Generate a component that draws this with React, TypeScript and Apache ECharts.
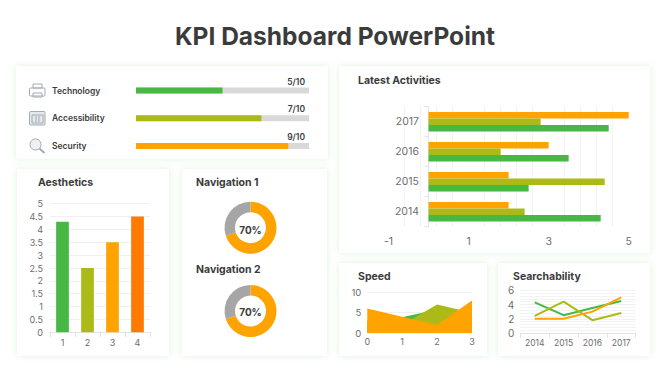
import React, { useEffect, useRef } from "react";
import * as echarts from "echarts";

const FONT = "Inter, 'Open Sans', sans-serif";
const GREEN = "#47b843";
const OLIVE = "#abba16";
const ORANGE = "#ffa300";
const DEEP = "#ff7a00";
const GRAY = "#a6a6a6";
const INK = "#3b3b3b";
const TICK = "#6e6e6e";

const kpiNames = ["Technology", "Accessibility", "Security"];
const kpiLabels = ["5/10", "7/10", "9/10"];
const kpiValues = [5, 7.25, 8.8];
const kpiMax = 10;

const years = ["2014", "2015", "2016", "2017"];
const seriesGreen = [4.3, 2.5, 3.5, 4.5];
const seriesOlive = [2.4, 4.4, 1.8, 2.8];
const seriesOrange = [2, 2, 3, 5];

const aestheticsCats = ["1", "2", "3", "4"];
const aestheticsValues = [4.3, 2.5, 3.5, 4.5];

const donutValues = [70, 30];

const speedCats = ["0", "1", "2", "3"];
const speedGreen = [3, 3.9, 5.8, 3];
const speedOlive = [0, 2, 7, 5];
const speedOrange = [6, 4, 2, 8];

const panels = [
  [16, 66, 312, 93],
  [339, 66, 311, 187],
  [17, 169, 152, 187],
  [182, 169, 145, 187],
  [339, 263, 148, 93],
  [498, 263, 152, 93],
];

const headings: [string, number, number][] = [
  ["Latest Activities", 358, 80],
  ["Aesthetics", 38, 182],
  ["Navigation 1", 196, 182],
  ["Navigation 2", 196, 269],
  ["Speed", 358, 276],
  ["Searchability", 513, 276],
];

const iconStroke = { stroke: "#a3abb4", fill: "none", lineWidth: 1 };

function icons() {
  return [
    { type: "rect", shape: { x: 29.5, y: 88, width: 15.5, height: 8, r: 1 }, style: iconStroke },
    { type: "rect", shape: { x: 33, y: 84, width: 9, height: 4 }, style: iconStroke },
    { type: "rect", shape: { x: 33, y: 93, width: 9, height: 4 }, style: iconStroke },
    { type: "rect", shape: { x: 29.5, y: 111.5, width: 15.5, height: 13.5, r: 1 }, style: { ...iconStroke, fill: "#e6e9ec" } },
    { type: "rect", shape: { x: 32, y: 115, width: 11, height: 8 }, style: iconStroke },
    { type: "line", shape: { x1: 36, y1: 116, x2: 36, y2: 122 }, style: iconStroke },
    { type: "line", shape: { x1: 39, y1: 116, x2: 39, y2: 122 }, style: iconStroke },
    { type: "circle", shape: { cx: 35.5, cy: 144.5, r: 5.5 }, style: { ...iconStroke, fill: "#eef0f2" } },
    { type: "line", shape: { x1: 39.5, y1: 148.5, x2: 44.5, y2: 153 }, style: { stroke: "#a3abb4", lineWidth: 2 } },
  ];
}

export default function App() {
  const ref = useRef<HTMLDivElement>(null);
  useEffect(() => {
    document.body.style.margin = "0";
    const chart = echarts.init(ref.current!, undefined, { renderer: "svg" });
    const splitFaint = { show: true, lineStyle: { color: "#f0f0f0", width: 1 } };
    const tickLabel = (size: number) => ({ color: TICK, fontFamily: FONT, fontSize: size });
    const hiddenVal = { show: false };

    const donut = (cy: number) => ({
      type: "pie",
      center: [250.5, cy],
      radius: [15.5, 26],
      startAngle: 90,
      silent: true,
      label: { show: false },
      labelLine: { show: false },
      data: [
        { value: donutValues[0], itemStyle: { color: ORANGE } },
        { value: donutValues[1], itemStyle: { color: GRAY } },
      ],
    });

    const area = (name: string, data: number[], color: string) => ({
      type: "line",
      name,
      xAxisIndex: 3,
      yAxisIndex: 3,
      data,
      symbol: "none",
      lineStyle: { width: 0 },
      areaStyle: { color, opacity: 1 },
    });
    const line = (name: string, data: number[], color: string) => ({
      type: "line",
      name,
      xAxisIndex: 4,
      yAxisIndex: 4,
      data,
      symbol: "none",
      lineStyle: { width: 2, color },
    });
    const hbar = (name: string, data: number[], color: string) => ({
      type: "bar",
      name,
      xAxisIndex: 1,
      yAxisIndex: 1,
      data,
      barWidth: 6.5,
      barGap: "0%",
      itemStyle: { color },
    });

    chart.setOption({
      animation: false,
      backgroundColor: "#ffffff",
      grid: [
        { left: 136, top: 76.6, width: 173, height: 83.4 },
        { left: 388.5, top: 106.7, width: 240.2, height: 120 },
        { left: 50, top: 203.7, width: 100, height: 128.6 },
        { left: 367.3, top: 292.3, width: 104.7, height: 40.7 },
        { left: 520.3, top: 290.3, width: 115.4, height: 42.7 },
      ],
      xAxis: [
        { gridIndex: 0, type: "value", min: 0, max: kpiMax, ...hiddenVal },
        {
          gridIndex: 1,
          type: "value",
          min: -1,
          max: 5,
          interval: 2,
          axisLine: { show: false },
          axisTick: { show: false },
          axisLabel: { ...tickLabel(10.5), margin: 9 },
          splitLine: { show: false },
          minorTick: { show: false, splitNumber: 5 },
          minorSplitLine: { show: true, lineStyle: { color: "#f3f3f3", width: 1 } },
        },
        {
          gridIndex: 2,
          type: "category",
          data: aestheticsCats,
          axisLine: { lineStyle: { color: "#e4e4e4" } },
          axisTick: { show: true, lineStyle: { color: "#e4e4e4" } },
          axisLabel: { ...tickLabel(9), margin: 6 },
        },
        {
          gridIndex: 3,
          type: "category",
          data: speedCats,
          boundaryGap: false,
          axisLine: { show: false },
          axisTick: { show: false },
          axisLabel: { ...tickLabel(9), margin: 4 },
        },
        {
          gridIndex: 4,
          type: "category",
          data: years,
          axisLine: { lineStyle: { color: "#e4e4e4" } },
          axisTick: { show: true, lineStyle: { color: "#e4e4e4" } },
          axisLabel: { ...tickLabel(8.5), margin: 5 },
        },
      ],
      yAxis: [
        {
          gridIndex: 0,
          type: "category",
          inverse: true,
          data: kpiNames,
          axisLine: { show: false },
          axisTick: { show: false },
          axisLabel: {
            color: INK,
            fontFamily: FONT,
            fontSize: 8.5,
            fontWeight: 600,
            align: "left",
            margin: 84,
          },
        },
        {
          gridIndex: 1,
          type: "category",
          data: years,
          axisLine: { onZero: true, lineStyle: { color: "#e4e4e4" } },
          axisTick: { show: true, length: 4, lineStyle: { color: "#e4e4e4" } },
          axisLabel: { ...tickLabel(10.5), margin: -30.5 },
        },
        {
          gridIndex: 2,
          type: "value",
          min: 0,
          max: 5,
          interval: 0.5,
          axisLine: { show: false },
          axisTick: { show: false },
          axisLabel: { ...tickLabel(9), margin: 7 },
          splitLine: splitFaint,
        },
        {
          gridIndex: 3,
          type: "value",
          min: 0,
          max: 10,
          interval: 5,
          axisLine: { show: false },
          axisTick: { show: false },
          axisLabel: { ...tickLabel(9.5), margin: 6 },
          splitLine: splitFaint,
        },
        {
          gridIndex: 4,
          type: "value",
          min: 0,
          max: 6,
          interval: 2,
          axisLine: { show: false },
          axisTick: { show: false },
          axisLabel: { ...tickLabel(10), margin: 6 },
          splitLine: splitFaint,
          minorTick: { show: false, splitNumber: 5 },
          minorSplitLine: { show: true, lineStyle: { color: "#f3f3f3", width: 1 } },
        },
      ],
      series: [
        {
          type: "bar",
          xAxisIndex: 0,
          yAxisIndex: 0,
          barWidth: 6,
          showBackground: true,
          backgroundStyle: { color: "#d9d9d9" },
          data: kpiValues.map((v, i) => ({
            value: v,
            itemStyle: { color: [GREEN, OLIVE, ORANGE][i] },
          })),
        },
        hbar("Orange", seriesOrange, ORANGE),
        hbar("Olive", seriesOlive, OLIVE),
        hbar("Green", seriesGreen, GREEN),
        {
          type: "bar",
          xAxisIndex: 2,
          yAxisIndex: 2,
          barWidth: 12.7,
          data: aestheticsValues.map((v, i) => ({
            value: v,
            itemStyle: { color: [GREEN, OLIVE, ORANGE, DEEP][i] },
          })),
        },
        area("Green", speedGreen, GREEN),
        area("Olive", speedOlive, OLIVE),
        area("Orange", speedOrange, ORANGE),
        line("Green", seriesGreen, GREEN),
        line("Olive", seriesOlive, OLIVE),
        line("Orange", seriesOrange, ORANGE),
        donut(227.7),
        donut(311),
      ],
      graphic: [
        ...panels.map(([x, y, width, height]) => ({
          type: "rect",
          z: -10,
          silent: true,
          shape: { x, y, width, height },
          style: {
            fill: "#ffffff",
            shadowColor: "rgba(90,200,90,0.22)",
            shadowBlur: 6,
          },
        })),
        {
          type: "text",
          x: 335,
          y: 36,
          style: {
            text: "KPI Dashboard PowerPoint",
            fill: INK,
            font: `700 24.5px ${FONT}`,
            textAlign: "center",
            textVerticalAlign: "middle",
          },
        },
        ...headings.map(([text, x, y]) => ({
          type: "text",
          x,
          y,
          style: {
            text,
            fill: INK,
            font: `700 10.5px ${FONT}`,
            textAlign: "left",
            textVerticalAlign: "middle",
          },
        })),
        ...kpiLabels.map((text, i) => ({
          type: "text",
          x: 305,
          y: 81.5 + i * 27.7,
          style: {
            text,
            fill: INK,
            font: `600 8.5px ${FONT}`,
            textAlign: "right",
            textVerticalAlign: "middle",
          },
        })),
        ...[229.5, 312].map((y) => ({
          type: "text",
          x: 250.5,
          y,
          z: 10,
          style: {
            text: `${donutValues[0]}%`,
            fill: INK,
            font: `700 10px ${FONT}`,
            textAlign: "center",
            textVerticalAlign: "middle",
          },
        })),
        ...icons().map((g) => ({ ...g, silent: true })),
      ],
    });
    return () => chart.dispose();
  }, []);
  return <div ref={ref} style={{ position: "fixed", left: 0, top: 0, width: 670, height: 376 }} />;
}
